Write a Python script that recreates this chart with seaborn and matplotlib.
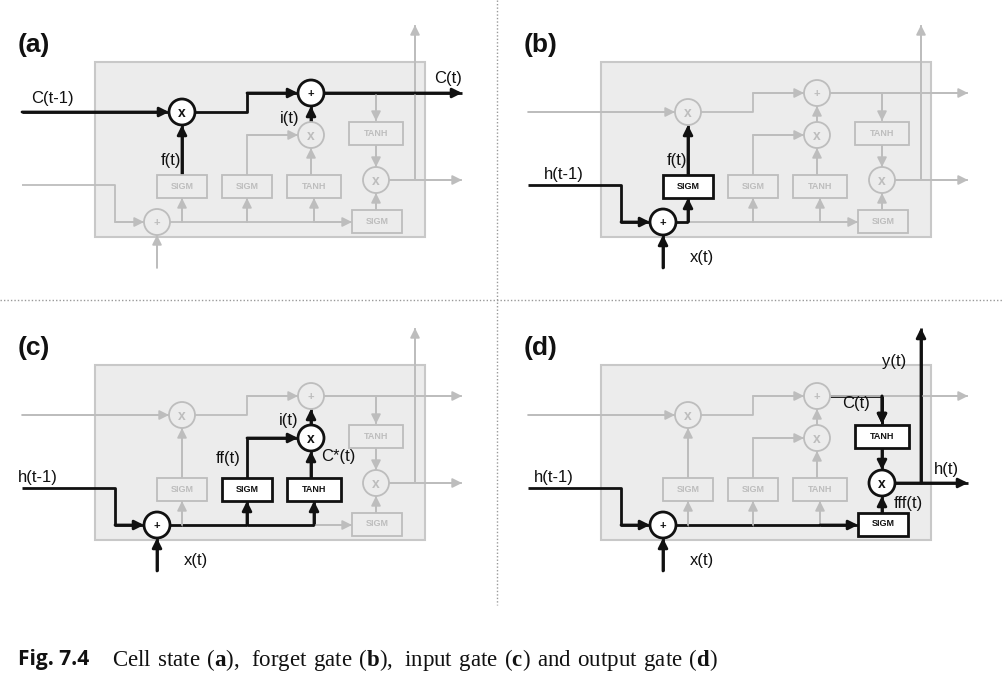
"""LSTM gate diagrams: cell state, forget, input and output gate."""

import matplotlib.pyplot as plt
import matplotlib.patches as mpatches
import seaborn as sns

sns.set_theme(style="white")
plt.rcParams["font.family"] = ["Liberation Sans", "DejaVu Sans"]
plt.rcParams["mathtext.fontset"] = "custom"
plt.rcParams["mathtext.rm"] = "Liberation Serif"
plt.rcParams["mathtext.bf"] = "Liberation Serif:bold"

# panel labels and offsets (pixels)
panel_names = ["(a)", "(b)", "(c)", "(d)"]
panel_dx = [0, 506, 0, 506]
panel_dy = [0, 0, 303, 303]

# nodes in local panel coords: name -> (x, y, symbol)
circles = {"mf": (182, 112, "x"), "pc": (311, 93, "+"), "mi": (311, 135, "x"),
           "mo": (376, 180, "x"), "px": (157, 222, "+")}
# boxes: name -> (cx, cy, w, h, label)
boxes = {"sf": (182, 186, 50, 23, "SIGM"), "si": (247, 186, 50, 23, "SIGM"),
         "tc": (314, 186, 54, 23, "TANH"), "to": (376, 133, 54, 23, "TANH"),
         "so": (377, 221, 50, 23, "SIGM")}
# paths: name -> (points, arrow at end)
paths = {
    "c_in": ([(22, 112), (169, 112)], True),
    "c_mid": ([(195, 112), (247, 112), (247, 93), (298, 93)], True),
    "c_out": ([(324, 93), (462, 93)], True),
    "c_tanh": ([(376, 93), (376, 121)], True),
    "tanh_mo": ([(376, 145), (376, 167)], True),
    "h_out": ([(389, 180), (462, 180)], True),
    "y_out": ([(415, 180), (415, 25)], True),
    "h_in": ([(22, 185), (115, 185), (115, 222), (144, 222)], True),
    "x_in": ([(157, 268), (157, 235)], True),
    "bus_f": ([(170, 222), (182, 222)], False),
    "bus_i": ([(182, 222), (247, 222)], False),
    "bus_c": ([(247, 222), (314, 222)], False),
    "bus_o": ([(314, 222), (352, 222)], True),
    "up_f": ([(182, 222), (182, 198)], True),
    "up_i": ([(247, 222), (247, 198)], True),
    "up_c": ([(314, 222), (314, 198)], True),
    "f_mf": ([(182, 175), (182, 125)], True),
    "i_mi": ([(247, 175), (247, 135), (298, 135)], True),
    "c_mi": ([(311, 175), (311, 148)], True),
    "mi_pc": ([(311, 122), (311, 106)], True),
    "so_mo": ([(376, 210), (376, 193)], True),
}

highlight = [
    {"c_in", "c_mid", "c_out", "mf", "pc", "f_mf", "mi_pc"},
    {"h_in", "x_in", "px", "bus_f", "up_f", "sf", "f_mf"},
    {"h_in", "x_in", "px", "bus_f", "bus_i", "bus_c", "up_i", "up_c",
     "si", "tc", "mi", "i_mi", "c_mi", "mi_pc"},
    {"h_in", "x_in", "px", "bus_f", "bus_i", "bus_c", "bus_o", "so", "so_mo",
     "mo", "to", "c_tanh", "tanh_mo", "h_out", "y_out"},
]
# labels: (x, y, text)
labels = [
    [(52, 98, "C(t-1)"), (448, 78, "C(t)"), (171, 160, "f(t)"), (290, 118, "i(t)")],
    [(58, 174, "h(t-1)"), (196, 257, "x(t)"), (171, 160, "f(t)")],
    [(38, 174, "h(t-1)"), (196, 257, "x(t)"), (228, 155, "ff(t)"),
     (338, 153, "C*(t)"), (289, 117, "i(t)")],
    [(48, 174, "h(t-1)"), (196, 257, "x(t)"), (350, 100, "C(t)"),
     (440, 166, "h(t)"), (402, 200, "fff(t)"), (388, 58, "y(t)")],
]

BLACK = "#111111"
GRAY = "#bdbdbd"

fig = plt.figure(figsize=(10.02, 6.94), dpi=100)
ax = fig.add_axes([0, 0, 1, 1])
ax.set_xlim(0, 1002)
ax.set_ylim(694, 0)
ax.axis("off")


def draw_path(pts, arrow, color, lw, dx, dy):
    xs = [p[0] + dx for p in pts]
    ys = [p[1] + dy for p in pts]
    ax.plot(xs, ys, color=color, lw=lw, solid_capstyle="butt", zorder=3)
    if arrow:
        ax.annotate("", xy=(xs[-1], ys[-1]), xytext=(xs[-2], ys[-2]),
                    arrowprops=dict(arrowstyle="-|>", color=color, lw=lw,
                                    mutation_scale=14, shrinkA=0, shrinkB=0),
                    zorder=4)


for k in range(4):
    dx, dy = panel_dx[k], panel_dy[k]
    hl = highlight[k]
    ax.text(18 + dx, 52 + dy, panel_names[k], fontsize=19, fontweight="bold",
            color=BLACK)
    ax.add_patch(mpatches.Rectangle((95 + dx, 62 + dy), 330, 175, fc="#ececec",
                                    ec="#c8c8c8", lw=1.5, zorder=1))
    # gray first, black on top
    for name, (pts, arrow) in paths.items():
        if name not in hl:
            draw_path(pts, arrow, GRAY, 1.3, dx, dy)
    for name, (pts, arrow) in paths.items():
        if name in hl:
            draw_path(pts, arrow, BLACK, 2.0, dx, dy)
    if k == 3:
        # C(t) link to the output tanh
        draw_path([(324, 93), (376, 93), (376, 121)], True, BLACK, 2.0, dx, dy)
    for name, (cx, cy, w, h, txt) in boxes.items():
        on = name in hl
        ax.add_patch(mpatches.Rectangle((cx - w / 2 + dx, cy - h / 2 + dy), w, h,
                                        fc="white" if on else "#ececec",
                                        ec=BLACK if on else GRAY,
                                        lw=2.0 if on else 1.3, zorder=5))
        ax.text(cx + dx, cy + dy, txt, ha="center", va="center", fontsize=6.5,
                fontweight="bold", color=BLACK if on else GRAY, zorder=6)
    for name, (cx, cy, sym) in circles.items():
        on = name in hl
        ax.add_patch(mpatches.Circle((cx + dx, cy + dy), 13,
                                     fc="white" if on else "#ececec",
                                     ec=BLACK if on else GRAY,
                                     lw=2.0 if on else 1.3, zorder=5))
        ax.text(cx + dx, cy + dy + 1, sym, ha="center", va="center",
                fontsize=10 if sym == "x" else 8, fontweight="bold",
                color=BLACK if on else GRAY, zorder=6)
    for (lx, ly, txt) in labels[k]:
        ax.text(lx + dx, ly + dy, txt, ha="center", va="center", fontsize=12,
                color=BLACK, zorder=7)

# dotted separators
ax.plot([497, 497], [0, 605], color="#999999", lw=1, ls=(0, (1, 1.5)))
ax.plot([0, 1002], [300, 300], color="#999999", lw=1, ls=(0, (1, 1.5)))

ax.text(18, 660, "Fig. 7.4", fontsize=15, fontweight="bold", color=BLACK,
        va="center", family=["Open Sans", "DejaVu Sans"])
ax.text(112, 660, r"$\mathrm{Cell\ state\ (}\mathbf{a}\mathrm{),\ forget\ gate\ (}"
        r"\mathbf{b}\mathrm{),\ input\ gate\ (}\mathbf{c}\mathrm{)\ and\ output\ gate\ (}"
        r"\mathbf{d}\mathrm{)}$", fontsize=16.5, color=BLACK, va="center")

fig.savefig("out.png", dpi=100)
